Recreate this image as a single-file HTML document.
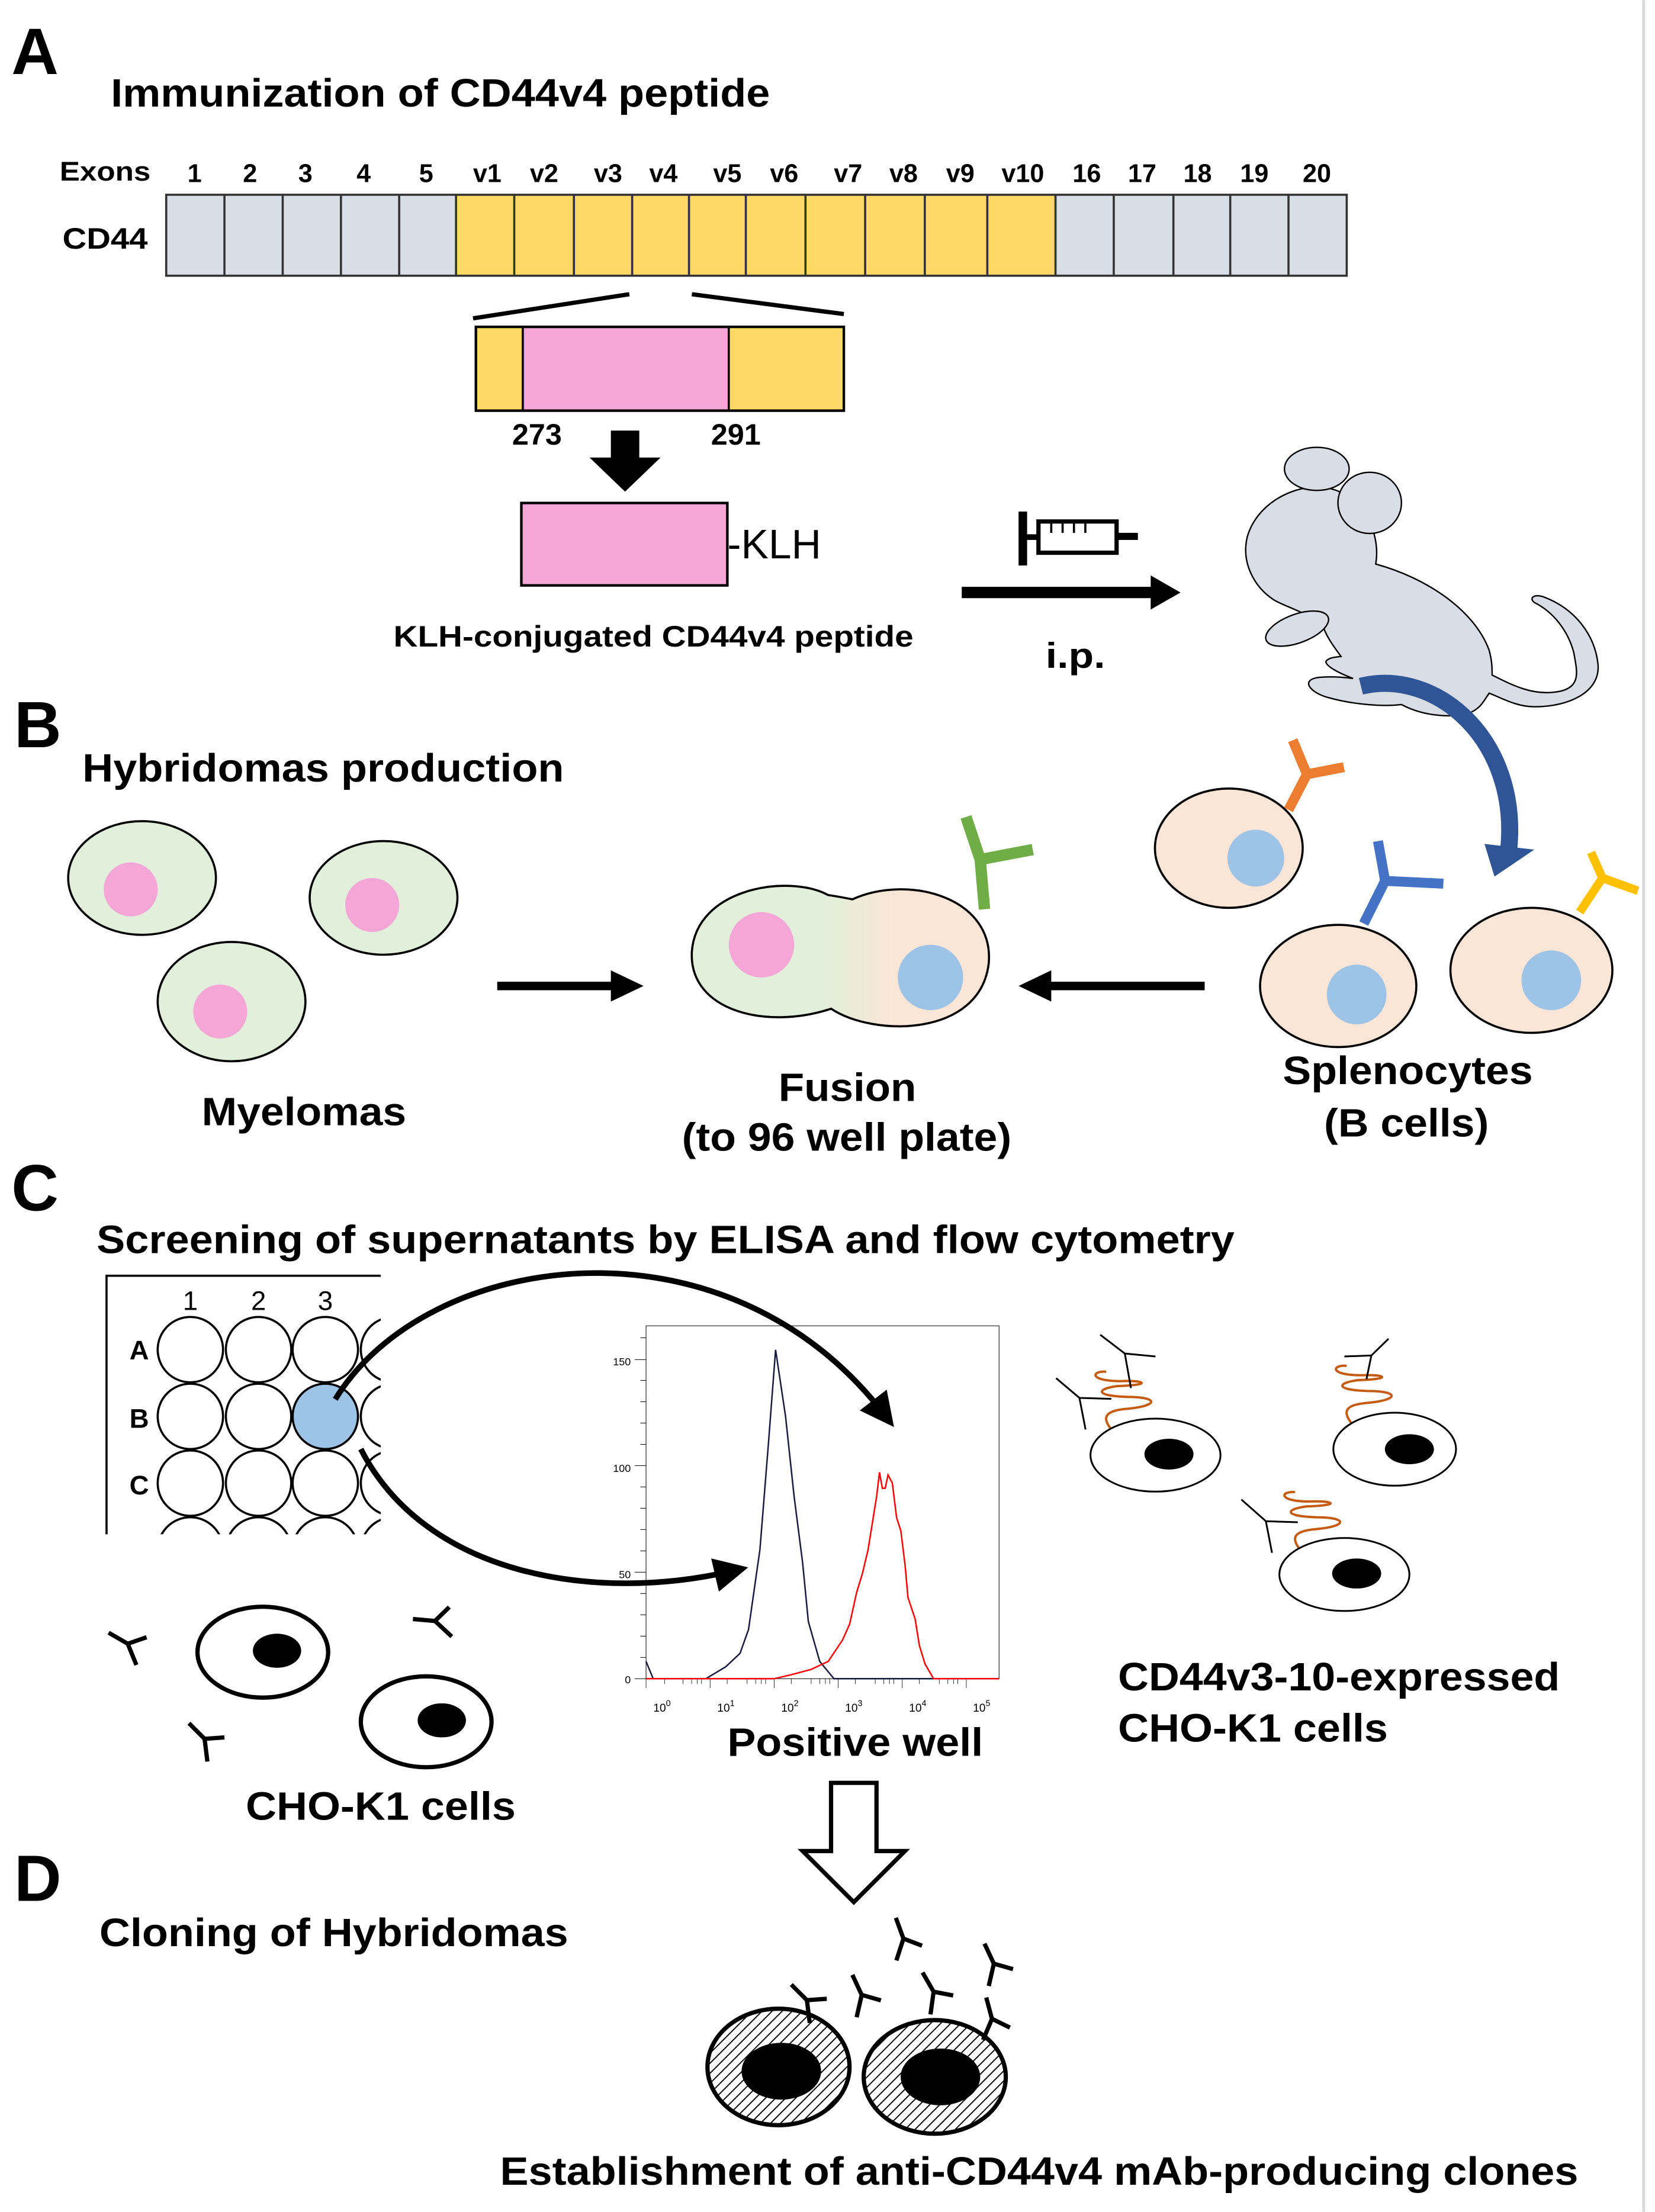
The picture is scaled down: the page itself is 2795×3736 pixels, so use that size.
<!DOCTYPE html>
<html><head><meta charset="utf-8">
<style>
html,body{margin:0;padding:0;background:#fff;}
svg{display:block;}
text{font-family:"Liberation Sans",Arial,sans-serif;font-weight:bold;fill:#000;}
</style></head>
<body>
<svg width="2795" height="3736" viewBox="0 0 1165 1557" xmlns="http://www.w3.org/2000/svg">
<defs>
<marker id="ah" markerWidth="6" markerHeight="6" refX="3" refY="3" orient="auto" markerUnits="strokeWidth">
<path d="M0,0 L6,3 L0,6 Z" fill="#000"/>
</marker>
<linearGradient id="fg" x1="0" x2="1" y1="0" y2="0">
<stop offset="0" stop-color="#e2efda"/><stop offset="0.45" stop-color="#e2efda"/><stop offset="0.7" stop-color="#fbe5d6"/><stop offset="1" stop-color="#fbe5d6"/>
</linearGradient>
<pattern id="hatch" width="5" height="5" patternUnits="userSpaceOnUse" patternTransform="rotate(45)">
<rect width="5" height="5" fill="#fff"/><line x1="0" y1="0" x2="0" y2="5" stroke="#000" stroke-width="1.6"/>
</pattern>
<clipPath id="wc"><rect x="75" y="898" width="193" height="182"/></clipPath>
<g id="ab"><path d="M0,0 L-2,-16 M-2,-16 L-13,-27 M-2,-16 L12,-17" stroke="#000" stroke-width="3" fill="none"/></g>
</defs>
<rect width="1165" height="1557" fill="#fff"/>
<line x1="1157" y1="0" x2="1157" y2="1557" stroke="#d9d9d9" stroke-width="2"/>

<!-- A -->
<text x="8" y="52" font-size="46">A</text>
<text x="78" y="75" font-size="28" textLength="464" lengthAdjust="spacingAndGlyphs">Immunization of CD44v4 peptide</text>
<text x="42" y="127" font-size="19" textLength="64" lengthAdjust="spacingAndGlyphs">Exons</text>
<g font-size="18" text-anchor="middle">
<text x="137" y="128">1</text><text x="176" y="128">2</text><text x="215" y="128">3</text><text x="256" y="128">4</text><text x="300" y="128">5</text>
<text x="343" y="128">v1</text><text x="383" y="128">v2</text><text x="428" y="128">v3</text><text x="467" y="128">v4</text><text x="512" y="128">v5</text>
<text x="552" y="128">v6</text><text x="597" y="128">v7</text><text x="636" y="128">v8</text><text x="676" y="128">v9</text><text x="720" y="128">v10</text>
<text x="765" y="128">16</text><text x="804" y="128">17</text><text x="843" y="128">18</text><text x="883" y="128">19</text><text x="927" y="128">20</text>
</g>
<text x="44" y="175" font-size="21" textLength="60" lengthAdjust="spacingAndGlyphs">CD44</text>
<rect x="117" y="137" width="204" height="57" fill="#d9dde6"/>
<rect x="321" y="137" width="422" height="57" fill="#ffd966"/>
<rect x="743" y="137" width="205" height="57" fill="#d9dde6"/>
<g stroke="#333" stroke-width="1.5" fill="none">
<rect x="117" y="137" width="831" height="57"/>
<path d="M158,137V194M199,137V194M240,137V194M281,137V194M321,137V194M362,137V194M404,137V194M445,137V194M485,137V194M525,137V194M567,137V194M609,137V194M651,137V194M695,137V194M743,137V194M784,137V194M826,137V194M866,137V194M907,137V194"/>
</g>
<path d="M333,224 L443,207 M487,207 L594,221" stroke="#000" stroke-width="3"/>
<rect x="335" y="230" width="33" height="59" fill="#ffd966"/>
<rect x="368" y="230" width="145" height="59" fill="#f4a6d6"/>
<rect x="513" y="230" width="81" height="59" fill="#ffd966"/>
<rect x="335" y="230" width="259" height="59" fill="none" stroke="#000" stroke-width="1.8"/>
<line x1="368" y1="230" x2="368" y2="289" stroke="#000" stroke-width="1.5"/>
<line x1="513" y1="230" x2="513" y2="289" stroke="#000" stroke-width="1.5"/>
<text x="378" y="313" font-size="21" text-anchor="middle">273</text>
<text x="518" y="313" font-size="21" text-anchor="middle">291</text>
<path d="M430,303 H450 V322 H465 L440,346 L415,322 H430 Z" fill="#000"/>
<rect x="367" y="354" width="145" height="58" fill="#f4a6d6" stroke="#000" stroke-width="1.8"/>
<text x="512" y="393" font-size="29" style="font-weight:normal">-KLH</text>
<text x="277" y="455" font-size="21" textLength="366" lengthAdjust="spacingAndGlyphs">KLH-conjugated CD44v4 peptide</text>
<!-- syringe -->
<rect x="717" y="360" width="6" height="38" fill="#000"/>
<rect x="723" y="376" width="8" height="4" fill="#000"/>
<rect x="731" y="367" width="55" height="22" fill="#fff" stroke="#000" stroke-width="3"/>
<path d="M740,367V375M748,367V375M756,367V375M764,367V375" stroke="#000" stroke-width="1.5"/>
<rect x="786" y="375" width="15" height="5" fill="#000"/>
<path d="M677,417 H812" stroke="#000" stroke-width="8"/>
<path d="M810,405 L831,417 L810,429 Z" fill="#000"/>
<text x="736" y="470" font-size="25" textLength="42" lengthAdjust="spacingAndGlyphs">i.p.</text>
<!-- mouse -->
<g transform="translate(833.3,291.7) scale(0.2128,0.1595)" fill="#d9dde6" stroke="#000" stroke-width="2.4">
<path vector-effect="non-scaling-stroke" d="M1020,1150 C1080,1190 1150,1240 1230,1225 C1320,1210 1300,1130 1290,1050 C1270,950 1220,870 1160,830 C1140,810 1160,790 1190,805 C1300,860 1360,980 1370,1100 C1380,1220 1280,1290 1160,1290 C1100,1290 1050,1250 1010,1230 C990,1270 980,1300 940,1320 C880,1340 790,1330 720,1280 C660,1290 560,1280 480,1250 C420,1230 380,1170 450,1160 C490,1155 530,1160 560,1165 C510,1140 470,1110 470,1090 C480,1070 510,1070 520,1068 C500,1030 470,980 460,930 C400,870 340,850 300,820 C230,760 190,650 210,540 C240,400 350,320 440,320 C530,320 600,400 630,530 C640,580 640,620 635,660 C800,720 960,860 1010,1040 C1020,1090 1020,1120 1020,1150 Z"/>
<ellipse vector-effect="non-scaling-stroke" cx="440" cy="240" rx="107" ry="95"/>
<ellipse vector-effect="non-scaling-stroke" cx="615" cy="390" rx="105" ry="135"/>
<ellipse vector-effect="non-scaling-stroke" cx="375" cy="945" rx="115" ry="60" transform="rotate(-30 375 945)"/>
</g>
<path d="M958,483 C1010,470 1070,520 1062,598" stroke="#2f5597" stroke-width="12" fill="none"/>
<path d="M1045,594 L1080,598 L1052,617 Z" fill="#2f5597"/>

<!-- B -->
<text x="10" y="526" font-size="46">B</text>
<text x="58" y="550" font-size="28" textLength="339" lengthAdjust="spacingAndGlyphs">Hybridomas production</text>
<g stroke="#000" stroke-width="1.5">
<ellipse cx="100" cy="618" rx="52" ry="40" fill="#e2efda"/>
<ellipse cx="270" cy="632" rx="52" ry="40" fill="#e2efda"/>
<ellipse cx="163" cy="705" rx="52" ry="42" fill="#e2efda"/>
</g>
<circle cx="92" cy="626" r="19" fill="#f4a6d6"/>
<circle cx="262" cy="637" r="19" fill="#f4a6d6"/>
<circle cx="155" cy="712" r="19" fill="#f4a6d6"/>
<text x="142" y="792" font-size="28" textLength="144" lengthAdjust="spacingAndGlyphs">Myelomas</text>
<path d="M350,694 H432" stroke="#000" stroke-width="6"/>
<path d="M430,683 L453,694 L430,705 Z" fill="#000"/>
<path d="M848,694 H738" stroke="#000" stroke-width="6"/>
<path d="M740,683 L717,694 L740,705 Z" fill="#000"/>
<path d="M583,630 C555,615 490,625 487,670 C485,712 540,725 585,710 C615,730 690,730 696,678 C700,632 640,615 600,633 C595,632 590,631 583,630 Z" fill="url(#fg)" stroke="#000" stroke-width="1.5"/>
<circle cx="536" cy="665" r="23" fill="#f4a6d6"/>
<circle cx="655" cy="688" r="23" fill="#9dc3e6"/>
<path d="M693,640 L690,605 M690,605 L680,575 M690,605 L727,598" stroke="#70ad47" stroke-width="8" fill="none"/>
<text x="548" y="775" font-size="28" textLength="97" lengthAdjust="spacingAndGlyphs">Fusion</text>
<text x="480" y="810" font-size="28" textLength="232" lengthAdjust="spacingAndGlyphs">(to 96 well plate)</text>
<g stroke="#000" stroke-width="1.5" fill="#fbe5d6">
<ellipse cx="865" cy="597" rx="52" ry="42"/>
<ellipse cx="942" cy="694" rx="55" ry="43"/>
<ellipse cx="1078" cy="683" rx="57" ry="44"/>
</g>
<circle cx="884" cy="604" r="20" fill="#9dc3e6"/>
<circle cx="955" cy="700" r="21" fill="#9dc3e6"/>
<circle cx="1092" cy="690" r="21" fill="#9dc3e6"/>
<path d="M907,570 L920,545 M920,545 L910,521 M920,545 L946,540" stroke="#ed7d31" stroke-width="7" fill="none"/>
<path d="M960,650 L975,620 M975,620 L970,592 M975,620 L1016,622" stroke="#4472c4" stroke-width="7" fill="none"/>
<path d="M1112,642 L1128,618 M1128,618 L1120,600 M1128,618 L1153,627" stroke="#ffc000" stroke-width="6" fill="none"/>
<text x="903" y="763" font-size="28" textLength="176" lengthAdjust="spacingAndGlyphs">Splenocytes</text>
<text x="932" y="800" font-size="28" textLength="116" lengthAdjust="spacingAndGlyphs">(B cells)</text>

<!-- C -->
<text x="8" y="852" font-size="46">C</text>
<text x="68" y="882" font-size="28" textLength="801" lengthAdjust="spacingAndGlyphs">Screening of supernatants by ELISA and flow cytometry</text>
<path d="M75,1080 V898 H268" stroke="#000" stroke-width="1.5" fill="none"/>
<g font-size="19" text-anchor="middle">
<text x="134" y="922" style="font-weight:normal">1</text><text x="182" y="922" style="font-weight:normal">2</text><text x="229" y="922" style="font-weight:normal">3</text>
</g>
<text x="98" y="957" font-size="19" text-anchor="middle">A</text>
<text x="98" y="1005" font-size="19" text-anchor="middle">B</text>
<text x="98" y="1052" font-size="19" text-anchor="middle">C</text>
<g clip-path="url(#wc)" stroke="#000" stroke-width="1.5" fill="#fff">
<circle cx="134" cy="950" r="23"/><circle cx="182" cy="950" r="23"/><circle cx="229" cy="950" r="23"/><circle cx="277" cy="950" r="23"/>
<circle cx="134" cy="997" r="23"/><circle cx="182" cy="997" r="23"/><circle cx="229" cy="997" r="23" fill="#9dc3e6"/><circle cx="277" cy="997" r="23"/>
<circle cx="134" cy="1044" r="23"/><circle cx="182" cy="1044" r="23"/><circle cx="229" cy="1044" r="23"/><circle cx="277" cy="1044" r="23"/>
<circle cx="134" cy="1091" r="23"/><circle cx="182" cy="1091" r="23"/><circle cx="229" cy="1091" r="23"/><circle cx="277" cy="1091" r="23"/>
</g>
<path d="M236,985 C300,880 510,850 622,995" stroke="#000" stroke-width="4" fill="none" marker-end="url(#ah)"/>
<path d="M254,1020 C300,1110 420,1128 515,1106" stroke="#000" stroke-width="4" fill="none" marker-end="url(#ah)"/>
<!-- histogram -->
<g transform="translate(416.7,922) scale(0.2004,0.1875)" fill="none">
<rect vector-effect="non-scaling-stroke" x="190" y="60" width="1240" height="1325" stroke="#000" stroke-width="1"/>
<path vector-effect="non-scaling-stroke" d="M150,187H190M150,585H190M150,985H190M150,1385H190M170,105H190M170,265H190M170,345H190M170,425H190M170,505H190M170,665H190M170,745H190M170,825H190M170,905H190M170,1065H190M170,1145H190M170,1225H190M170,1305H190" stroke="#000" stroke-width="1"/>
<path vector-effect="non-scaling-stroke" d="M190,1385V1420M415,1385V1420M640,1385V1420M865,1385V1420M1090,1385V1420M1315,1385V1420M255,1385V1405M320,1385V1405M350,1385V1405M370,1385V1405M385,1385V1405M475,1385V1405M545,1385V1405M575,1385V1405M595,1385V1405M610,1385V1405M700,1385V1405M770,1385V1405M800,1385V1405M820,1385V1405M835,1385V1405M925,1385V1405M995,1385V1405M1025,1385V1405M1045,1385V1405M1060,1385V1405M1150,1385V1405M1220,1385V1405M1250,1385V1405M1270,1385V1405M1285,1385V1405" stroke="#000" stroke-width="0.8"/>
<path vector-effect="non-scaling-stroke" d="M190,1320 L215,1385 L400,1385 L470,1340 L520,1290 L550,1200 L590,900 L620,500 L645,150 L680,400 L710,700 L740,950 L760,1170 L800,1320 L850,1385 L1430,1385" stroke="#1a1a40" stroke-width="2.5"/>
<path vector-effect="non-scaling-stroke" d="M190,1385 L640,1385 L700,1370 L770,1350 L830,1320 L880,1240 L905,1180 L930,1060 L950,990 L970,900 L1000,700 L1010,610 L1020,670 L1030,670 L1040,620 L1055,650 L1070,780 L1085,830 L1100,960 L1110,1080 L1135,1160 L1150,1260 L1170,1330 L1200,1385 L1430,1385" stroke="#ff0000" stroke-width="2.5"/>
</g>
<g font-size="7.5" text-anchor="end">
<text x="444" y="961" style="font-weight:normal">150</text>
<text x="444" y="1036" style="font-weight:normal">100</text>
<text x="444" y="1111" style="font-weight:normal">50</text>
<text x="444" y="1185" style="font-weight:normal">0</text>
</g>
<g font-size="8" text-anchor="middle">
<text x="466" y="1205" style="font-weight:normal">10<tspan dy="-4" font-size="6">0</tspan></text>
<text x="511" y="1205" style="font-weight:normal">10<tspan dy="-4" font-size="6">1</tspan></text>
<text x="556" y="1205" style="font-weight:normal">10<tspan dy="-4" font-size="6">2</tspan></text>
<text x="601" y="1205" style="font-weight:normal">10<tspan dy="-4" font-size="6">3</tspan></text>
<text x="646" y="1205" style="font-weight:normal">10<tspan dy="-4" font-size="6">4</tspan></text>
<text x="691" y="1205" style="font-weight:normal">10<tspan dy="-4" font-size="6">5</tspan></text>
</g>
<text x="512" y="1236" font-size="28" textLength="180" lengthAdjust="spacingAndGlyphs">Positive well</text>
<!-- CD44v3-10 CHO cells -->
<g transform="translate(741.7,933.3) scale(0.1727,0.1389)" fill="none">
<g stroke="#c55a11" stroke-width="4" stroke-linejoin="round" stroke-linecap="round">
<path id="sq" vector-effect="non-scaling-stroke" d="M235,525 C200,470 200,430 300,420 C430,405 430,360 300,360 C170,355 170,320 260,305 C400,300 380,275 270,280 C150,280 150,230 210,232"/>
<use href="#sq" transform="translate(980,-30)"/>
<use href="#sq" transform="translate(770,610)"/>
</g>
<g stroke="#000" stroke-width="3">
<path vector-effect="non-scaling-stroke" d="M130,525 L105,365 M105,365 L10,265 M105,365 L235,370 M315,315 L290,140 M290,140 L190,45 M290,140 L415,155 M1275,270 L1295,150 M1295,150 L1365,65 M1295,150 L1185,155 M890,1150 L865,990 M865,990 L765,880 M865,990 L995,995"/>
<ellipse vector-effect="non-scaling-stroke" cx="415" cy="655" rx="265" ry="185" fill="#fff"/>
<ellipse vector-effect="non-scaling-stroke" cx="1390" cy="625" rx="250" ry="185" fill="#fff"/>
<ellipse vector-effect="non-scaling-stroke" cx="1185" cy="1260" rx="265" ry="185" fill="#fff"/>
</g>
<ellipse cx="470" cy="650" rx="100" ry="78" fill="#000"/>
<ellipse cx="1450" cy="625" rx="100" ry="76" fill="#000"/>
<ellipse cx="1235" cy="1255" rx="100" ry="76" fill="#000"/>
</g>
<text x="787" y="1190" font-size="28" textLength="311" lengthAdjust="spacingAndGlyphs">CD44v3-10-expressed</text>
<text x="787" y="1226" font-size="28" textLength="190" lengthAdjust="spacingAndGlyphs">CHO-K1 cells</text>
<!-- CHO-K1 -->
<g stroke="#000" stroke-width="3" fill="#fff">
<ellipse cx="185" cy="1163" rx="46" ry="32"/>
<ellipse cx="300" cy="1212" rx="46" ry="32"/>
</g>
<ellipse cx="195" cy="1162" rx="17" ry="12" fill="#000"/>
<ellipse cx="311" cy="1211" rx="17" ry="12" fill="#000"/>
<use href="#ab" transform="translate(96,1172) rotate(-15)"/>
<use href="#ab" transform="translate(318,1152) rotate(-40)"/>
<use href="#ab" transform="translate(146,1240)"/>
<text x="173" y="1281" font-size="28" textLength="190" lengthAdjust="spacingAndGlyphs">CHO-K1 cells</text>
<path d="M585,1255 H617 V1303 H637 L601,1339 L565,1303 H585 Z" fill="#fff" stroke="#000" stroke-width="3"/>

<!-- D -->
<text x="10" y="1338" font-size="46">D</text>
<text x="70" y="1370" font-size="28" textLength="330" lengthAdjust="spacingAndGlyphs">Cloning of Hybridomas</text>
<g stroke="#000" stroke-width="3" fill="url(#hatch)">
<ellipse cx="548" cy="1455" rx="50" ry="41"/>
<ellipse cx="658" cy="1462" rx="50" ry="40"/>
</g>
<ellipse cx="550" cy="1458" rx="28" ry="20" fill="#000"/>
<ellipse cx="662" cy="1462" rx="28" ry="20" fill="#000"/>
<use href="#ab" transform="translate(570,1424)"/>
<use href="#ab" transform="translate(603,1420) rotate(20)"/>
<use href="#ab" transform="translate(631,1380) rotate(25)"/>
<use href="#ab" transform="translate(655,1418) rotate(15)"/>
<use href="#ab" transform="translate(696,1398) rotate(20)"/>
<use href="#ab" transform="translate(692,1436) rotate(30)"/>
<text x="352" y="1538" font-size="28" textLength="759" lengthAdjust="spacingAndGlyphs">Establishment of anti-CD44v4 mAb-producing clones</text>
</svg>
</body></html>
